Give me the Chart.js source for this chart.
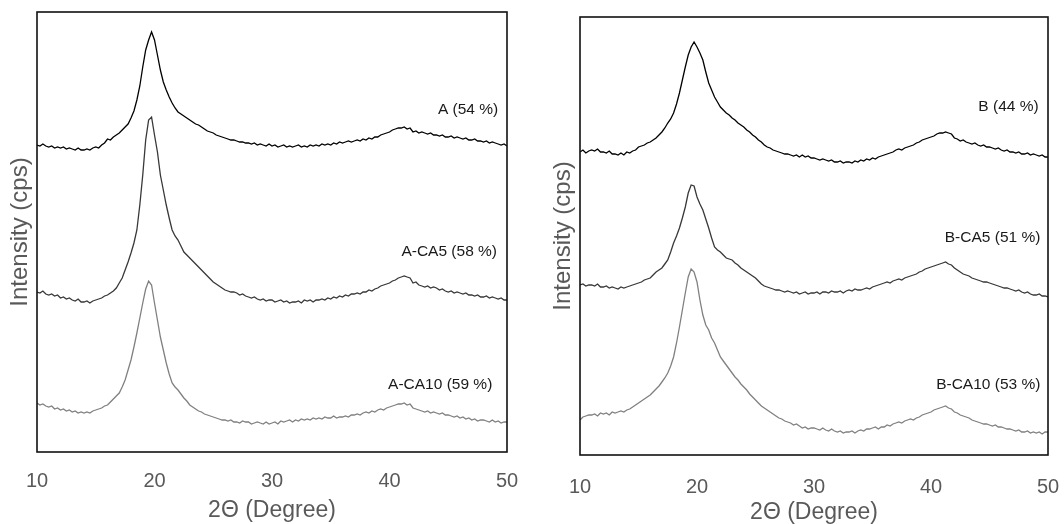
<!DOCTYPE html>
<html>
<head>
<meta charset="utf-8">
<script src="https://cdn.jsdelivr.net/npm/chart.js@4.4.0/dist/chart.umd.min.js"></script>
<style>
  body { margin: 0; background: #fff; width: 1064px; height: 524px; overflow: hidden; position: relative; }
  canvas { position: absolute; top: 0; }
  #leftChart { left: 0; }
  #rightChart { left: 540px; }
</style>
</head>
<body>
<canvas id="leftChart" width="530" height="524"></canvas>
<canvas id="rightChart" width="524" height="524"></canvas>
<script>
// 2-theta grid, 0.25 degree steps from 10 to 50
const twoTheta = Array.from({ length: 161 }, (_, i) => 10 + i * 0.25);
const xTicks = [10, 20, 30, 40, 50];

// Intensity (arbitrary units, curves already offset)
const seriesA = [
  307,306,308,306, 305,306,304,305, 304,305,303,304, 303,302,304,302, 302,303,302,304,
  305,304,307,309, 313,312,315,317, 319,322,325,328, 334,341,352,366, 385,402,412,420,
  412,397,382,370, 362,355,349,344, 340,338,336,334, 332,330,328,327, 325,323,321,320,
  319,317,316,315, 314,313,312,312, 311,310,310,309, 309,308,309,307, 308,307,306,308,
  306,307,305,306, 307,305,306,305, 306,307,305,306, 305,307,306,307, 306,308,307,308,
  307,309,308,310, 309,310,311,310, 311,312,311,313, 312,314,313,315, 315,317,318,319,
  320,322,323,324, 324,325,323,324, 320,321,319,320, 319,318,319,317, 317,316,317,315,
  315,316,314,315, 314,313,314,312, 312,313,311,311, 310,311,309,310, 309,308,307,308,
  306
];
const seriesACA5 = [
  160,159,161,158, 157,158,156,157, 154,155,153,154, 152,151,153,150, 150,151,149,151,
  152,153,154,156, 157,159,161,164, 169,174,182,190, 199,209,222,247, 277,312,332,335,
  317,300,277,262, 247,234,222,216, 212,206,200,197, 194,191,188,185, 182,179,176,173,
  170,168,166,164, 162,161,160,160, 159,157,158,156, 155,154,155,153, 152,153,151,152,
  152,150,151,152, 150,151,149,150, 150,151,149,152, 151,152,150,152, 152,153,152,154,
  153,155,154,156, 155,157,156,158, 158,159,158,160, 160,162,161,163, 164,166,167,168,
  169,171,172,174, 175,176,175,174, 169,170,167,166, 165,166,164,165, 164,162,163,161,
  160,161,159,160, 159,158,159,157, 157,156,157,155, 155,156,154,155, 154,153,154,152,
  152
];
const seriesACA10 = [
  49,47,48,46, 45,46,43,44, 42,43,41,42, 40,41,39,40, 39,40,39,41,
  42,43,44,46, 47,50,53,56, 59,65,72,82, 92,105,119,134, 149,163,171,167,
  149,132,115,102, 89,78,69,65, 62,58,54,51, 47,45,43,41, 40,38,37,36,
  35,34,33,32, 32,31,32,30, 30,29,31,30, 30,28,29,30, 29,28,30,28,
  29,30,28,31, 30,31,32,30, 32,31,33,32, 33,32,34,33, 34,33,35,34,
  34,36,34,35, 35,36,35,37, 37,38,37,39, 40,39,41,40, 42,43,42,44,
  45,46,47,48, 48,49,47,48, 44,43,42,41, 40,41,39,40, 39,38,39,37,
  37,36,35,36, 34,35,33,34, 32,33,31,32, 32,31,30,32, 30,31,29,30,
  30
];
const seriesB = [
  303,305,302,304, 305,304,306,303, 303,302,304,301, 301,300,302,300, 303,302,304,305,
  308,309,310,312, 313,315,317,320, 323,327,332,336, 342,351,362,375, 388,400,408,413,
  408,402,395,383, 372,365,358,353, 348,345,342,340, 337,335,332,330, 328,325,323,320,
  318,315,313,310, 308,307,305,304, 303,302,301,301, 300,299,300,298, 300,298,299,297,
  297,296,295,296, 295,294,295,293, 293,294,292,293, 293,292,294,293, 295,294,296,295,
  297,296,298,299, 300,301,302,303, 305,306,305,307, 308,309,310,312, 313,315,316,317,
  318,319,321,322, 322,323,322,321, 317,316,314,315, 313,312,311,312, 310,309,310,308,
  308,307,306,307, 305,304,305,303, 303,302,303,301, 301,302,300,301, 300,299,300,298,
  298
];
const seriesBCA5 = [
  170,171,169,170, 170,169,171,168, 168,169,167,168, 167,166,168,167, 168,169,170,171,
  172,173,175,176, 177,180,183,185, 187,191,195,203, 212,219,227,237, 248,262,270,269,
  258,251,245,236, 227,217,208,205, 203,200,197,196, 195,192,190,187, 185,183,181,179,
  177,174,171,169, 168,167,166,165, 165,164,163,164, 163,162,163,161, 162,163,161,162,
  162,163,161,163, 163,162,164,163, 163,164,162,164, 165,164,166,165, 165,166,167,166,
  168,169,170,171, 172,173,172,174, 175,176,175,177, 178,179,180,181, 183,184,186,187,
  188,189,190,191, 192,193,191,190, 187,185,183,181, 180,179,177,176, 175,174,173,173,
  172,171,170,169, 168,167,167,166, 165,164,165,163, 162,163,161,160, 160,161,159,159,
  158
];
const seriesBCA10 = [
  35,38,39,40, 40,41,39,42, 41,42,40,43, 42,43,44,43, 45,46,48,50,
  52,54,56,58, 60,63,66,69, 73,77,82,89, 98,112,128,145, 162,178,186,183,
  173,155,140,130, 125,117,112,105, 98,94,90,86, 82,78,75,71, 68,65,61,58,
  55,52,49,47, 45,43,41,39, 37,36,34,33, 32,30,31,29, 27,28,26,27,
  27,26,25,27, 25,24,26,24, 23,24,22,23, 23,24,22,24, 25,24,26,26,
  27,28,26,28, 28,30,29,31, 32,33,32,34, 35,36,35,37, 38,40,41,42,
  43,45,46,47, 48,49,47,46, 43,42,40,39, 38,37,35,34, 33,32,31,31,
  30,29,30,28, 28,27,26,26, 25,24,25,23, 23,24,22,23, 22,23,21,23,
  23
];

const namesLeft = ['A (54 %)', 'A-CA5 (58 %)', 'A-CA10 (59 %)'];
const namesRight = ['B (44 %)', 'B-CA5 (51 %)', 'B-CA10 (53 %)'];

const lineColors = ['#000000', '#383838', '#808080'];
const tickColor = '#595959';
const fontFamily = '"Liberation Sans", Arial, sans-serif';

// draws the box round the plot and the sample names next to each curve
const framePlugin = {
    id: 'frame',
    afterDatasetsDraw(chart, args, opts) {
        const { ctx, chartArea: a, scales: { x, y } } = chart;
        ctx.save();
        ctx.strokeStyle = '#111';
        ctx.lineWidth = 1.6;
        ctx.strokeRect(a.left, a.top, a.right - a.left, a.bottom - a.top);
        ctx.fillStyle = '#1a1a1a';
        ctx.font = '15.5px ' + fontFamily;
        ctx.textAlign = 'right';
        ctx.textBaseline = 'middle';
        opts.names.forEach((t, i) => {
            ctx.fillText(t, x.getPixelForValue(opts.at[i][0]), y.getPixelForValue(opts.at[i][1]));
        });
        ctx.restore();
    }
};

function makePanel(canvasId, seriesList, names, o) {
    const ctx = document.getElementById(canvasId).getContext('2d');
    return new Chart(ctx, {
        type: 'line',
        data: {
            datasets: seriesList.map((s, i) => ({
                label: names[i],
                data: s.map((v, j) => ({ x: twoTheta[j], y: v })),
                borderColor: lineColors[i],
                borderWidth: 1.3,
                pointRadius: 0,
                tension: 0,
                fill: false,
            })),
        },
        options: {
            responsive: false,
            animation: false,
            devicePixelRatio: 1,
            layout: { padding: { top: o.top, right: o.right, left: 0, bottom: 0 } },
            plugins: {
                legend: { display: false },
                tooltip: { enabled: false },
                frame: { names, at: o.labelAt },
            },
            scales: {
                x: {
                    type: 'linear',
                    min: 10,
                    max: 50,
                    afterBuildTicks: (scale) => { scale.ticks = xTicks.map(v => ({ value: v })); },
                    afterFit: (scale) => {
                        scale.height = o.xHeight;
                        scale.paddingLeft = 0;
                        scale.paddingRight = 0;
                    },
                    grid: { display: false, drawTicks: false },
                    border: { display: false },
                    ticks: { color: tickColor, font: { family: fontFamily, size: 20 }, padding: o.tickPad, maxRotation: 0 },
                    title: { display: true, text: '2Θ (Degree)', color: tickColor, font: { family: fontFamily, size: 23 }, padding: { top: 0, bottom: o.titlePad } },
                },
                y: {
                    min: 0,
                    max: o.yMax,
                    afterFit: (scale) => { scale.width = o.yWidth; },
                    grid: { display: false, drawTicks: false },
                    border: { display: false },
                    ticks: { display: false },
                    title: { display: true, text: 'Intensity (cps)', color: tickColor, font: { family: fontFamily, size: 24 }, padding: { top: o.yTitlePad, bottom: 0 } },
                },
            },
        },
        plugins: [framePlugin],
    });
}

makePanel('leftChart', [seriesA, seriesACA5, seriesACA10], namesLeft, {
    top: 12, right: 23, xHeight: 72, yWidth: 37, yMax: 440,
    tickPad: 17, titlePad: 0, yTitlePad: 6,
    labelAt: [[49.25, 342], [49.15, 200], [48.75, 67]],
});

makePanel('rightChart', [seriesB, seriesBCA5, seriesBCA10], namesRight, {
    top: 17, right: 16, xHeight: 69, yWidth: 40, yMax: 438,
    tickPad: 20, titlePad: -2, yTitlePad: 9,
    labelAt: [[49.2, 348], [49.35, 217], [49.35, 70]],
});
</script>
</body>
</html>
